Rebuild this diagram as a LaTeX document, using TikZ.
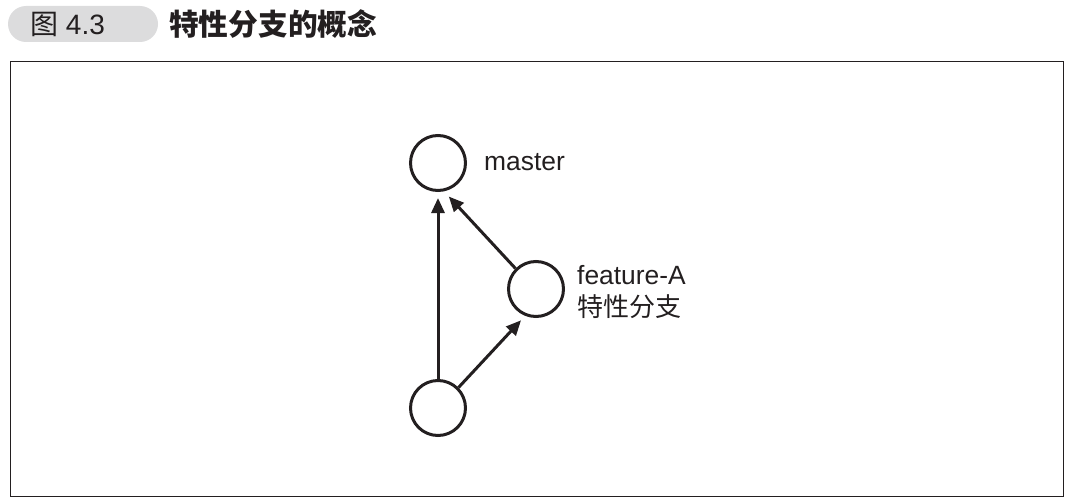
\documentclass[tikz,border=0pt]{standalone}
\usepackage{fontspec}
\setmainfont{Liberation Sans}
\newfontfamily\cjk{Noto Sans CJK SC}
\usetikzlibrary{arrows.meta}
\definecolor{ink}{HTML}{231F20}
\definecolor{pill}{HTML}{DCDCDD}
\tikzset{
  commit/.style={circle, draw=ink, line width=3pt, minimum size=55pt, inner sep=0pt},
  link/.style={draw=ink, line width=3pt, -{Triangle[length=15pt,width=13pt]}},
  lbl/.style={anchor=west, inner sep=0pt, text=ink, font=\fontsize{26.4}{30}\selectfont},
}
\begin{document}
\begin{tikzpicture}[x=1pt,y=-1pt]
\useasboundingbox (0,0) rectangle (1073,503);
% title
\node[fill=pill, rounded corners=18pt, minimum width=150pt, minimum height=36pt, inner sep=0pt] (pill) at (83,24) {};
\node[anchor=west, inner sep=0pt, text=ink, font=\fontsize{28}{32}\selectfont] (fig) at (30,24) {{\cjk 图} 4.3};
\node[anchor=west, inner sep=0pt, text=ink, font=\cjk\bfseries\fontsize{29.7}{34}\selectfont] (title) at (169,24) {特性分支的概念};
% frame
\draw[ink, line width=1pt] (10,62) rectangle (1063,496);
% commits
\node[commit] (m) at (438,163) {};
\node[commit] (f) at (536,289) {};
\node[commit] (b) at (438,408) {};
% labels
\node[lbl] (ml) at (484,162) {master};
\node[lbl] (fl) at (577,275) {feature-A};
\node[lbl, font=\cjk\fontsize{26}{30}\selectfont] (fl2) at (577,307) {特性分支};
% connectors
\draw[link, shorten >=6pt] (b.north) -- (m.south);
\draw[link, shorten >=6pt] (b.45) -- (f.248);
\draw[link, shorten >=7pt] (f.135) -- (m.-78);
\end{tikzpicture}
\end{document}
